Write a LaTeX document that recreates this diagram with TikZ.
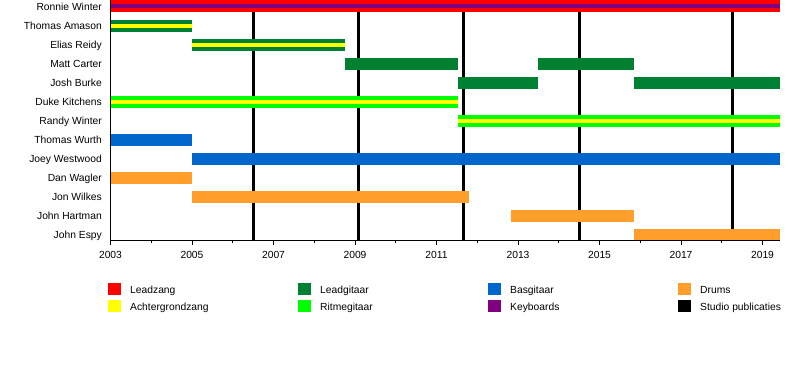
\documentclass[tikz,border=0pt]{standalone}
\usepackage{fontspec}
\setmainfont{Liberation Sans}
\definecolor{cLead}{HTML}{FF0000}
\definecolor{cBack}{HTML}{FFFF00}
\definecolor{cLG}{HTML}{008033}
\definecolor{cRG}{HTML}{00FF00}
\definecolor{cBas}{HTML}{0066CC}
\definecolor{cKey}{HTML}{800080}
\definecolor{cDrum}{HTML}{FF9E2A}
\newcommand\tbar[4]{\fill[#4] ({X(#2)},{R(#1)-6}) rectangle ({X(#3)},{R(#1)+6});}
\newcommand\sbar[5]{\tbar{#1}{#2}{#3}{#4}\fill[#5] ({X(#2)},{R(#1)-2}) rectangle ({X(#3)},{R(#1)+2});}
\begin{document}
\begin{tikzpicture}[x=1pt,y=-1pt,
  declare function={X(\t)=110.5+40.75*(\t-2003); R(\i)=6.5+19.05*\i;},
  txt/.style={font=\fontsize{10.3}{12}\selectfont, inner sep=0pt, text height=7.4pt, text depth=0pt},
  lbl/.style={txt, anchor=east},
  yrlbl/.style={txt, anchor=center},
  legtxt/.style={txt, anchor=west},
  legsq/.style={minimum width=13pt, minimum height=12pt, inner sep=0pt, draw=none},
  studio/.style={line width=3pt, black},
  axisline/.style={line width=1pt, black}]
\useasboundingbox (0,0) rectangle (800,390);
\fill[white] (0,0) rectangle (800,390);
% studio releases
\foreach \s [count=\k] in {2006.52,2009.08,2011.66,2014.5,2018.26}{
  \coordinate (st\k a) at ({X(\s)},0);
  \coordinate (st\k b) at ({X(\s)},240);
  \draw[studio] (st\k a) -- (st\k b);
}
% bars
\sbar{0}{2003}{2019.43}{cLead}{cKey}
\sbar{1}{2003}{2005}{cLG}{cBack}
\sbar{2}{2005}{2008.75}{cLG}{cBack}
\tbar{3}{2008.75}{2011.52}{cLG}
\tbar{3}{2013.5}{2015.85}{cLG}
\tbar{4}{2011.52}{2013.5}{cLG}
\tbar{4}{2015.85}{2019.43}{cLG}
\sbar{5}{2003}{2011.52}{cRG}{cBack}
\sbar{6}{2011.52}{2019.43}{cRG}{cBack}
\tbar{7}{2003}{2005}{cBas}
\tbar{8}{2005}{2019.43}{cBas}
\tbar{9}{2003}{2005}{cDrum}
\tbar{10}{2005}{2011.8}{cDrum}
\tbar{11}{2012.83}{2015.85}{cDrum}
\tbar{12}{2015.85}{2019.43}{cDrum}
% names
\foreach \n [count=\i from 0] in {Ronnie Winter,Thomas Amason,Elias Reidy,Matt Carter,Josh Burke,Duke Kitchens,Randy Winter,Thomas Wurth,Joey Westwood,Dan Wagler,Jon Wilkes,John Hartman,John Espy}{
  \node[lbl] (nm\i) at (102,{R(\i)}) {\n};
}
% axes
\coordinate (ax0) at ({X(2003)},0);
\coordinate (ax1) at ({X(2003)},240);
\coordinate (ax2) at ({X(2019.43)},240);
\draw[axisline] (ax0) -- (ax1) -- (ax2);
\foreach \y in {2003,2005,...,2019}{
  \draw[axisline] ({X(\y)},240) -- ({X(\y)},245);
  \node[yrlbl] (yr\y) at ({X(\y)},255) {\y};
}
\foreach \y in {2004,2006,...,2018}{
  \draw[line width=0.6pt] ({X(\y)},240) -- ({X(\y)},243);
}
% legend
\foreach \c/\t/\x/\r [count=\k] in {cLead/Leadzang/108/0,cBack/Achtergrondzang/108/1,cLG/Leadgitaar/298/0,cRG/Ritmegitaar/298/1,cBas/Basgitaar/488/0,cKey/Keyboards/488/1,cDrum/Drums/678/0,black/Studio publicaties/678/1}{
  \node[legsq, fill=\c] (lsq\k) at ({\x+6.5},{288.5+17*\r}) {};
  \node[legtxt] (ltx\k) at ({\x+22},{290+16.5*\r}) {\t};
}
\end{tikzpicture}
\end{document}
